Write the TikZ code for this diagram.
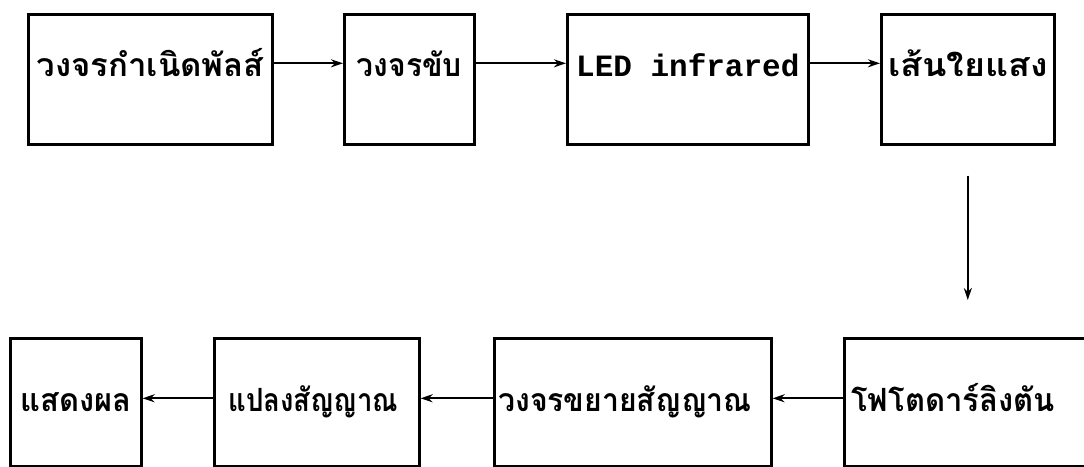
\documentclass[tikz,border=0pt]{standalone}
\usepackage{fontspec}
\newfontfamily\thaifont[Script=Thai]{Loma}
\newfontfamily\ledfont{Liberation Mono}
\usetikzlibrary{arrows.meta}
\newcommand{\sx}[2]{\scalebox{#1}[1]{#2}}

\begin{document}
\begin{tikzpicture}[x=1pt,y=-1pt,>={Stealth[length=12pt,width=8pt]},line width=2pt,
  blk/.style={draw,line width=2.6pt,anchor=north west,inner xsep=0pt,inner ysep=0pt,
    font=\thaifont\bfseries\fontsize{32}{36}\selectfont},
  toprow/.style={text height=62pt,text depth=68pt},
  botrow/.style={text height=73pt,text depth=55pt}]
\useasboundingbox (0,0) rectangle (1084,466);
% transmitter side
\node[blk,toprow,minimum width=244pt] (gen) at (27,13) {\sx{1.03}{วงจรกำเนิดพัลส์}};
\node[blk,toprow,minimum width=130pt] (drv) at (343,13) {\sx{0.94}{วงจรขับ}};
\node[blk,toprow,minimum width=241pt,font=\ledfont\bfseries\fontsize{31}{36}\selectfont] (led) at (566,13) {LED infrared};
\node[blk,toprow,minimum width=173pt] (fib) at (880,13) {\sx{1.12}{เส้นใยแสง}};
% receiver side
\node[blk,botrow,minimum width=131pt] (dsp) at (9,337) {\sx{0.965}{แสดงผล}};
\node[blk,botrow,inner xsep=14pt,text width=177pt,align=left] (cnv) at (213,337) {\sx{0.86}{แปลงสัญญาณ}};
\node[blk,botrow,inner xsep=4pt,text width=269pt,align=left] (amp) at (493,337) {\sx{0.944}{วงจรขยายสัญญาณ}};
\node[blk,botrow,inner xsep=7pt,text width=253pt,align=left] (pho) at (843,337) {\sx{0.97}{โฟโตดาร์ลิงตัน}};
% connectors
\draw[->] ([yshift=13pt]gen.base east) -- ([yshift=13pt]drv.base west);
\draw[->] ([yshift=13pt]drv.base east) -- ([yshift=13pt]led.base west);
\draw[->] ([yshift=13pt]led.base east) -- ([yshift=13pt]fib.base west);
\draw[->,shorten <=30pt,shorten >=37pt] (fib.south) -- (fib.south |- pho.north);
\draw[->] ([yshift=13pt]pho.base west) -- ([yshift=13pt]amp.base east);
\draw[->] ([yshift=13pt]amp.base west) -- ([yshift=13pt]cnv.base east);
\draw[->] ([yshift=13pt]cnv.base west) -- ([yshift=13pt]dsp.base east);
\end{tikzpicture}
\end{document}
